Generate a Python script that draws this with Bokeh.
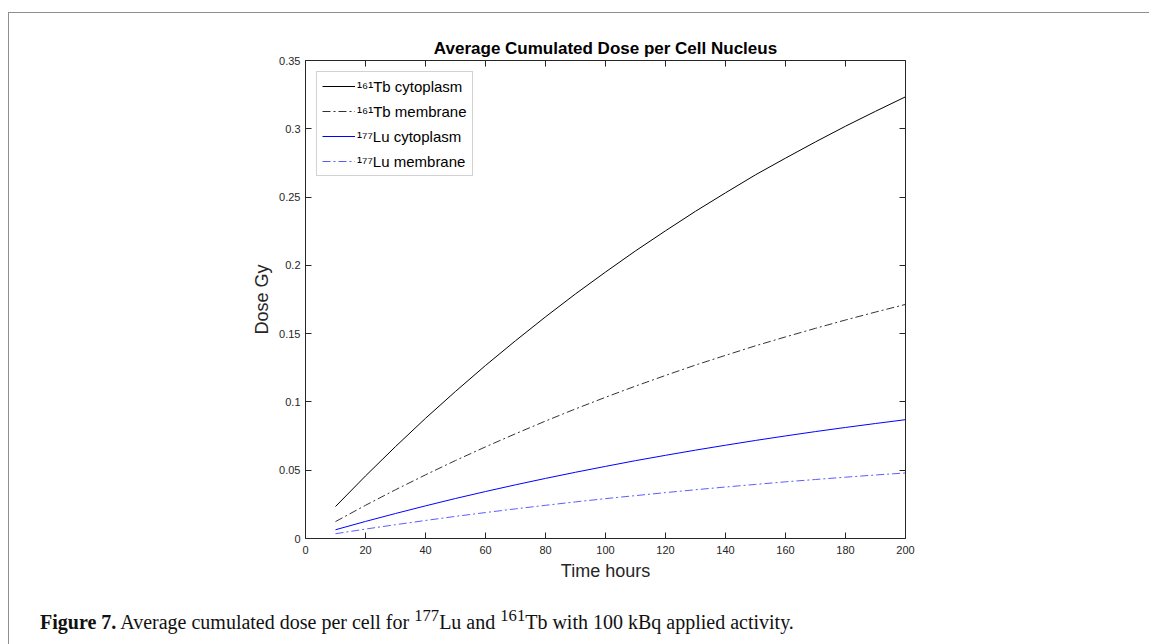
from bokeh.plotting import figure
from bokeh.models import LinearAxis, FixedTicker, Legend, LegendItem, Div, Range1d
from bokeh.layouts import column
from bokeh.embed import file_html
from bokeh.resources import INLINE

# ---- data ----
time_h = [10, 20, 30, 40, 50, 60, 70, 80, 90, 100, 110, 120, 130, 140, 150, 160, 170, 180, 190, 200]
tb_cytoplasm = [0.0234, 0.0458, 0.0673, 0.0880, 0.1077, 0.1267, 0.1448, 0.1623, 0.1791, 0.1951,
                0.2106, 0.2253, 0.2396, 0.2531, 0.2663, 0.2785, 0.2904, 0.3019, 0.3128, 0.3234]
tb_membrane = [0.0124, 0.0243, 0.0357, 0.0466, 0.0571, 0.0671, 0.0767, 0.0860, 0.0949, 0.1034,
               0.1116, 0.1194, 0.1270, 0.1341, 0.1411, 0.1476, 0.1539, 0.1600, 0.1658, 0.1714]
lu_cytoplasm = [0.0064, 0.0125, 0.0183, 0.0239, 0.0293, 0.0344, 0.0393, 0.0440, 0.0485, 0.0528,
                0.0570, 0.0609, 0.0647, 0.0683, 0.0718, 0.0751, 0.0783, 0.0813, 0.0842, 0.0870]
lu_membrane = [0.0035, 0.0069, 0.0101, 0.0132, 0.0162, 0.0190, 0.0217, 0.0243, 0.0268, 0.0292,
               0.0314, 0.0336, 0.0357, 0.0377, 0.0396, 0.0415, 0.0432, 0.0449, 0.0465, 0.0480]

series_labels = ["\u00b9\u2076\u00b9Tb cytoplasm", "\u00b9\u2076\u00b9Tb membrane",
                 "\u00b9\u2077\u2077Lu cytoplasm", "\u00b9\u2077\u2077Lu membrane"]
x_ticks = [0, 20, 40, 60, 80, 100, 120, 140, 160, 180, 200]
y_ticks = [0, 0.05, 0.1, 0.15, 0.2, 0.25, 0.3, 0.35]
y_tick_labels = ["0", "0.05", "0.1", "0.15", "0.2", "0.25", "0.3", "0.35"]

title_text = "Average Cumulated Dose per Cell Nucleus"
x_label = "Time hours"
y_label = "Dose Gy"
caption_html = ('<b>Figure 7.</b> Average cumulated dose per cell for '
                '<sup>177</sup>Lu and <sup>161</sup>Tb with 100 kBq applied activity.')

# ---- figure ----
AX = "#262626"
FONT = "Liberation Sans"

p = figure(width=1140, height=586, output_backend="svg", toolbar_location=None,
           x_range=Range1d(0, 200), y_range=Range1d(0, 0.35),
           min_border_left=296, min_border_right=244, min_border_top=47, min_border_bottom=61,
           title=title_text)
p.title.align = "center"
p.title.text_font = FONT
p.title.text_font_size = "17px"
p.title.text_font_style = "bold"
p.title.text_color = "black"
p.title.standoff = 6
p.outline_line_color = None
p.xgrid.visible = False
p.ygrid.visible = False
p.background_fill_color = "white"
p.border_fill_color = "white"

def style_axis(ax, ticks, show_labels):
    ax.ticker = FixedTicker(ticks=ticks)
    ax.axis_line_color = AX
    ax.axis_line_width = 1
    ax.major_tick_line_color = AX
    ax.major_tick_in = 6
    ax.major_tick_out = 0
    ax.minor_tick_line_color = None
    ax.major_label_text_font = FONT
    ax.major_label_text_font_size = "11px"
    ax.major_label_text_color = AX
    if not show_labels:
        ax.major_label_text_alpha = 0
        ax.major_label_text_font_size = "1px"

xa = p.xaxis[0]
style_axis(xa, x_ticks, True)
xa.axis_label = x_label
xa.axis_label_text_font = FONT
xa.axis_label_text_font_size = "18px"
xa.axis_label_text_font_style = "normal"
xa.axis_label_text_color = AX
xa.axis_label_standoff = 4
xa.major_label_standoff = 7

ya = p.yaxis[0]
style_axis(ya, y_ticks, True)
ya.major_label_overrides = {t: l for t, l in zip(y_ticks, y_tick_labels)}
ya.axis_label = y_label
ya.axis_label_text_font = FONT
ya.axis_label_text_font_size = "18px"
ya.axis_label_text_font_style = "normal"
ya.axis_label_text_color = AX
ya.axis_label_standoff = 4
ya.major_label_standoff = 5

top = LinearAxis()
style_axis(top, x_ticks, False)
p.add_layout(top, "above")
right = LinearAxis()
style_axis(right, y_ticks, False)
p.add_layout(right, "right")

r1 = p.line(time_h, tb_cytoplasm, line_color="black", line_width=1)
r2 = p.line(time_h, tb_membrane, line_color="#333333", line_width=1, line_dash="8 3 2 3")
r3 = p.line(time_h, lu_cytoplasm, line_color="#0000ff", line_width=1)
r4 = p.line(time_h, lu_membrane, line_color="#5c5cff", line_width=1, line_dash="8 3 2 3")

legend = Legend(items=[LegendItem(label=l, renderers=[r]) for l, r in zip(series_labels, [r1, r2, r3, r4])],
                location="top_left")
legend.margin = 11
legend.padding = 5
legend.spacing = 7
legend.glyph_width = 33
legend.glyph_height = 18
legend.label_height = 18
legend.label_standoff = 2
legend.label_text_font = FONT
legend.label_text_font_size = "15px"
legend.label_text_color = "black"
legend.border_line_color = "#a6a6a6"
legend.border_line_width = 1
legend.background_fill_color = "white"
p.add_layout(legend)

cap = Div(text=caption_html, width=1120, height=40,
          styles={"font-family": "'Liberation Serif', 'Times New Roman', serif",
                  "font-size": "20px", "color": "#111111", "padding-left": "26px",
                  "padding-top": "0px"})

layout = column(p, cap, styles={"border-top": "1.5px solid #8f8f8f",
                                "border-left": "1.5px solid #8f8f8f",
                                "margin-top": "12px", "margin-left": "8px"})

open("out.html", "w").write(file_html(layout, INLINE))
